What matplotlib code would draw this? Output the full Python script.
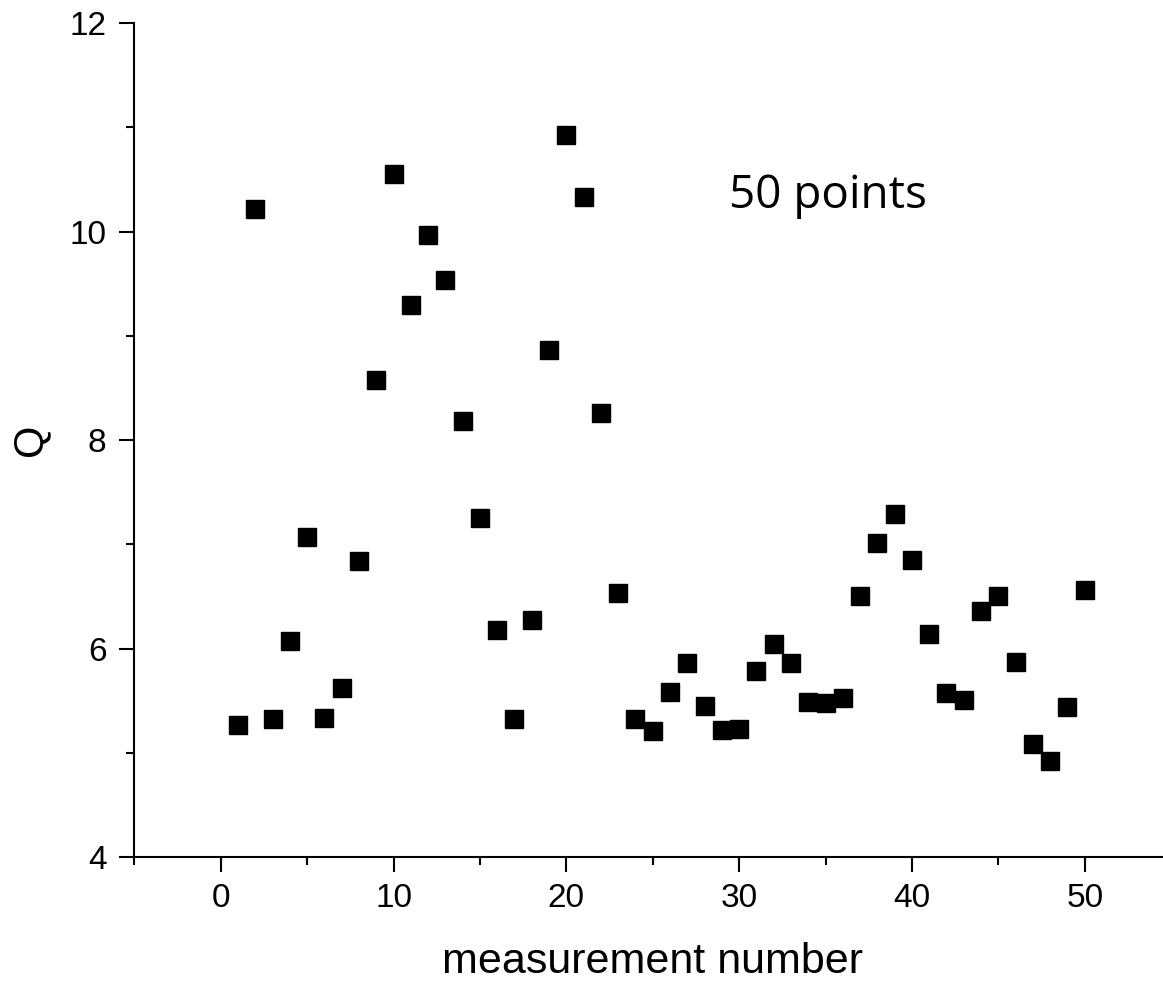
import matplotlib
matplotlib.use("Agg")
import matplotlib.pyplot as plt
from matplotlib.ticker import MultipleLocator

meas = list(range(1, 51))
q = [5.27, 10.22, 5.32, 6.07, 7.07, 5.33, 5.62, 6.84, 8.58, 10.55,
     9.30, 9.97, 9.54, 8.18, 7.25, 6.18, 5.32, 6.27, 8.86, 10.93,
     10.33, 8.26, 6.53, 5.32, 5.21, 5.58, 5.86, 5.45, 5.22, 5.23,
     5.78, 6.04, 5.86, 5.49, 5.48, 5.53, 6.50, 7.01, 7.29, 6.85,
     6.14, 5.57, 5.51, 6.36, 6.50, 5.87, 5.08, 4.92, 5.44, 6.56]

plt.rcParams['font.family'] = ['Liberation Sans', 'DejaVu Sans']

fig = plt.figure(figsize=(11.63, 9.86), dpi=100)
ax = fig.add_axes([0.1155, 0.1308, 0.8915, 0.8458])

ax.plot(meas, q, linestyle="none", marker="s", markersize=13.5, color="black")

ax.set_xlim(-5, 55)
ax.set_ylim(4, 12)
ax.xaxis.set_major_locator(MultipleLocator(10))
ax.xaxis.set_minor_locator(MultipleLocator(5))
ax.yaxis.set_major_locator(MultipleLocator(2))
ax.yaxis.set_minor_locator(MultipleLocator(1))

for s in ["top", "right"]:
    ax.spines[s].set_visible(False)
for s in ["left", "bottom"]:
    ax.spines[s].set_linewidth(1.5)

ax.tick_params(which="major", direction="out", length=11, width=1.5, labelsize=24)
ax.tick_params(axis="x", which="major", pad=8)
ax.tick_params(axis="y", which="major", pad=9)
ax.tick_params(which="minor", direction="out", length=5.5, width=1.5)

ax.set_xlabel("measurement number", fontsize=31, labelpad=20)
ax.set_ylabel("Q", fontsize=30, labelpad=14, rotation=90)

ax.text(29.4, 10.23, "50 points", fontsize=33, family=["Open Sans", "DejaVu Sans"],
        ha="left", va="baseline")

fig.savefig("out.png", dpi=100)
